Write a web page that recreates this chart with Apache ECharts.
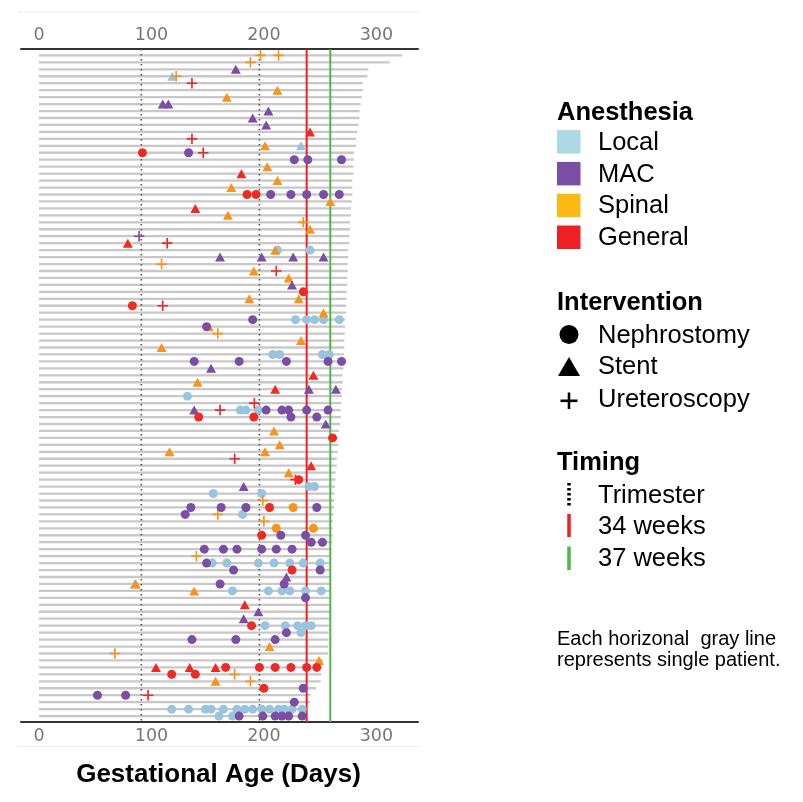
<!DOCTYPE html>
<html>
<head>
<meta charset="utf-8">
<script src="https://cdn.jsdelivr.net/npm/echarts@6/dist/echarts.min.js"></script>
<style>
html,body{margin:0;padding:0;background:#fff;}
#chart{width:803px;height:802px;}
</style>
</head>
<body>
<div id="chart"></div>
<script>
// ---------------- DATA ----------------
const tickValues = [0, 100, 200, 300];
// Gestational age at end of follow-up for each patient (row 1 = top)
const rowEnds = [
  323, 312, 293, 292, 288, 288, 287, 286, 285, 285, 284, 283, 282, 282,
  280, 280, 279.5, 279.5, 278.6, 278.6, 278.6, 278, 277.4, 277.4, 276.5, 276.5, 276, 276, 275, 275,
  274.5, 274.5, 274.2, 274, 273.6, 273.6, 273, 273, 272.4, 272, 272, 271.5, 271.5, 271.2, 270.6, 270.6,
  270, 270, 269.4, 269.4, 268.8, 268.3, 268.3, 267.7, 266.5,
  266.2, 266.2, 265.6, 264.7, 264.7, 263.8, 263.8, 263.2, 262.6, 262.3, 262.3, 261.7, 261.1, 261.1,
  260.8, 260.5, 260.2, 259.6, 259.6, 259.4, 259.4, 259.4, 259.4, 258.8, 258.8, 258.8, 258.2, 257.9,
  257.6, 257.3, 257.3, 257, 252.8, 251.4, 251, 250.5, 246.5, 241.6, 241, 237, 236.5
];
// Timing reference lines (days): trimesters, 34 weeks, 37 weeks
const trimesterDays = [91, 196];
const week34Day = [238];
const week37Day = [259];

// Events: [gestational day, patient row]
const localNeph = [[212,29],[241,29],[228,39],[238,39],[245,39],[253,39],[267,39],[208,44],[214,44],[252,44],[258,44],
  [132,50],[179,52],[184,52],[195,52],[240,63],[245,63],[155,64],[198,64],[181,67],
  [154,74],[167,74],[195,74],[209,74],[223,74],[235,74],[250,74],
  [172,78],[204,78],[216,78],[223,78],[237,78],[251,78],
  [201,83],[219,83],[230,83],[237,83],[242,83],[233,84],
  [118,95],[133,95],[148,95],[153,95],[164,95],[176,95],[183,95],[190,95],[198,95],[205,95],[213,95],[218,95],[225,95],[234,95],
  [160,96],[172,96]];
const localStent = [[118.5,4],[233,14],[85,77]];
const localUreter = [];

const spinalNeph = [[226,66],[211,69],[244,69]];
const spinalStent = [[212,6],[167,7],[201,14],[203,17],[212,19],[171,20],[259,22],[168,24],[241,26],[210,29],
  [191,32],[222,33],[187,36],[231,36],[253,38],[151,40],[233,42],[109,43],[141,48],[209,55],[214,57],
  [116,58],[201,58],[222,61],[86,77],[138,78],[205,86],[249,88],[157,91]];
const spinalUreter = [[197,1],[213,1],[188,2],[122,4],[235,25],[109,31],[159,41],[199,65],[159,67],[200,68],
  [140,73],[67.5,87],[174,90],[188,91]];

const macNeph = [[133,15],[227,16],[239,16],[269,16],[206,21],[224,21],[238,21],[253,21],[267,21],
  [190,39],[149,40],[138,45],[178,45],[220,45],[257,45],[269,45],
  [202,52],[216,52],[222,52],[238,52],[257,52],[224,53],[247,53],
  [135,66],[162,66],[184,66],[247,66],[130,67],[215,70],[237,70],[242,71],[252,71],
  [147,72],[164,72],[176,72],[198,72],[211,72],[225,72],[149,74],[173,75],[250,75],
  [161,77],[218,77],[237,79],[220,84],[136,85],[175,85],[210,85],[235,92],[52,93],[77,93],[227,94],
  [178,96],[199,96],[210,96],[216,96],[222,96],[234,96]];
const macStent = [[175,3],[110,8],[115,8],[204,9],[190,10],[202,11],[161,30],[198,30],[226,30],[253,30],
  [225,34],[153,46],[240,49],[264,49],[138,52],[255,54],[182,63],[220,76],[195,81],[182,82]];
const macUreter = [[89,27]];

const generalNeph = [[92,15],[185,21],[193,21],[235,35],[83,37],[142,53],[191,53],[261,56],[231,62],[205,66],
  [198,70],[225,75],[189,83],[166,89],[196,89],[210,89],[224,89],[238,89],[247,89],[118,90],[139,90],[200,92]];
const generalStent = [[241,12],[180,18],[139,23],[79,28],[244,47],[210,49],[242,60],[183,80],
  [104,89],[134,89],[157,89]];
const generalUreter = [[136,5],[136,13],[146,15],[114,28],[211,32],[110,37],[191.5,51],[161,52],[174,59],[228,62],[97,93]];

// ---------------- STYLE ----------------
const COL = {local:'#98C4DD', mac:'#7B4EA3', spinal:'#F7941D', general:'#EE2A24'};
const LEG = {local:'#ADD8E6', mac:'#7B4EA3', spinal:'#FDB913', general:'#EE2024'};
const PLUS = 'path://M42,0H58V42H100V58H58V100H42V58H0V42H42Z';
const SHAPES = {
  neph: {symbol:'circle', size:9},
  stent: {symbol:'triangle', size:[10,9]},
  ureter: {symbol:PLUS, size:10.5}
};

function scatter(data, color, kind) {
  return {
    type:'scatter', data:data, z:5, silent:true,
    symbol:SHAPES[kind].symbol, symbolSize:SHAPES[kind].size,
    itemStyle:{color:color, opacity:1},
    animation:false
  };
}

function vlineSeries(values, stroke, width, dash) {
  return {
    type:'custom', z:3, silent:true, animation:false,
    data: values.map(v => [v]),
    encode:{x:0},
    renderItem: function(params, api) {
      const cs = params.coordSys;
      const x = api.coord([api.value(0), 1])[0];
      return {type:'line', shape:{x1:x, y1:cs.y, x2:x, y2:cs.y+cs.height},
        style:{stroke:stroke, lineWidth:width, lineDash:dash || null}};
    }
  };
}

const xBase = {
  type:'value', min:-16, max:337,
  axisLine:{show:true, onZero:false, lineStyle:{color:'#333', width:2}},
  axisTick:{show:false},
  splitLine:{show:false},
  axisLabel:{customValues:tickValues, fontFamily:'DejaVu Sans', fontSize:17.5, color:'#777', margin:5}
};

const F = 'Liberation Sans, Arial, Helvetica, sans-serif';
const legendGraphics = [];
function txt(x, y, s, size, bold) {
  legendGraphics.push({type:'text', x:x, y:y, silent:true,
    style:{text:s, fill:'#000', font:(bold?'bold ':'') + size + 'px ' + F, textVerticalAlign:'middle', textAlign:'left'}});
}
txt(557, 113, 'Anesthesia', 25.5, true);
const anLabels = [['Local','local'],['MAC','mac'],['Spinal','spinal'],['General','general']];
anLabels.forEach((a, i) => {
  const cy = 141.8 + i*31.8;
  legendGraphics.push({type:'rect', silent:true, shape:{x:557, y:cy-11.7, width:23.5, height:23.5}, style:{fill:LEG[a[1]]}});
  txt(598, cy+1, a[0], 25.5, false);
});
txt(557, 303, 'Intervention', 25.5, true);
legendGraphics.push({type:'circle', silent:true, shape:{cx:569, cy:334.5, r:9.5}, style:{fill:'#000'}});
txt(598, 335.5, 'Nephrostomy', 25.5, false);
legendGraphics.push({type:'polygon', silent:true, shape:{points:[[558,376],[580,376],[569,357]]}, style:{fill:'#000'}});
txt(598, 367, 'Stent', 25.5, false);
legendGraphics.push({type:'line', silent:true, shape:{x1:569, y1:392.5, x2:569, y2:409}, style:{stroke:'#000', lineWidth:2.6}});
legendGraphics.push({type:'line', silent:true, shape:{x1:560.5, y1:400.8, x2:577.5, y2:400.8}, style:{stroke:'#000', lineWidth:2.6}});
txt(598, 400, 'Ureteroscopy', 25.5, false);
txt(557, 463, 'Timing', 25.5, true);
legendGraphics.push({type:'line', silent:true, shape:{x1:569, y1:483, x2:569, y2:507}, style:{stroke:'#000', lineWidth:3.5, lineDash:[2.5,2.5]}});
txt(598, 495.5, 'Trimester', 25.5, false);
legendGraphics.push({type:'line', silent:true, shape:{x1:569, y1:514, x2:569, y2:537}, style:{stroke:'#EE2024', lineWidth:3.5}});
txt(598, 527, '34 weeks', 25.5, false);
legendGraphics.push({type:'line', silent:true, shape:{x1:569, y1:546.5, x2:569, y2:570}, style:{stroke:'#4DB848', lineWidth:3.5}});
txt(598, 558.5, '37 weeks', 25.5, false);
txt(557, 639, 'Each horizonal  gray line', 20, false);
txt(557, 660, 'represents single patient.', 20, false);
legendGraphics.push({type:'text', silent:true, x:218.5, y:775,
  style:{text:'Gestational Age (Days)', fill:'#000', font:'bold 26px ' + F, textAlign:'center', textVerticalAlign:'middle'}});
legendGraphics.push({type:'line', silent:true, shape:{x1:18, y1:12, x2:420, y2:12}, style:{stroke:'#ececec', lineWidth:1}});
legendGraphics.push({type:'line', silent:true, shape:{x1:18, y1:746.5, x2:420, y2:746.5}, style:{stroke:'#ececec', lineWidth:1}});

const chart = echarts.init(document.getElementById('chart'), null, {renderer:'canvas'});
chart.setOption({
  animation:false,
  backgroundColor:'#fff',
  grid:{left:21, width:397, top:49, height:673, containLabel:false},
  xAxis:[Object.assign({}, xBase, {position:'bottom'}), Object.assign({}, xBase, {position:'top'})],
  yAxis:{type:'value', inverse:true, min:0.08, max:96.85, show:false},
  graphic:legendGraphics,
  series:[
    {
      type:'custom', z:1, silent:true, animation:false,
      data: rowEnds.map((e, i) => [0, e, i + 1]),
      encode:{x:[0,1], y:2},
      renderItem: function(params, api) {
        const s = api.coord([api.value(0), api.value(2)]);
        const e = api.coord([api.value(1), api.value(2)]);
        return {type:'line', shape:{x1:s[0], y1:s[1], x2:e[0], y2:e[1]},
          style:{stroke:'#c8c8c8', lineWidth:2.3}};
      }
    },
    vlineSeries(trimesterDays, '#555', 1.6, [1.6, 3.4]),
    vlineSeries(week34Day, '#EE2024', 2, null),
    vlineSeries(week37Day, '#4DB848', 2, null),
    scatter(localNeph, COL.local, 'neph'),
    scatter(localStent, COL.local, 'stent'),
    scatter(localUreter, COL.local, 'ureter'),
    scatter(spinalNeph, COL.spinal, 'neph'),
    scatter(spinalStent, COL.spinal, 'stent'),
    scatter(spinalUreter, COL.spinal, 'ureter'),
    scatter(macNeph, COL.mac, 'neph'),
    scatter(macStent, COL.mac, 'stent'),
    scatter(macUreter, COL.mac, 'ureter'),
    scatter(generalNeph, COL.general, 'neph'),
    scatter(generalStent, COL.general, 'stent'),
    scatter(generalUreter, COL.general, 'ureter')
  ]
});
</script>
</body>
</html>
